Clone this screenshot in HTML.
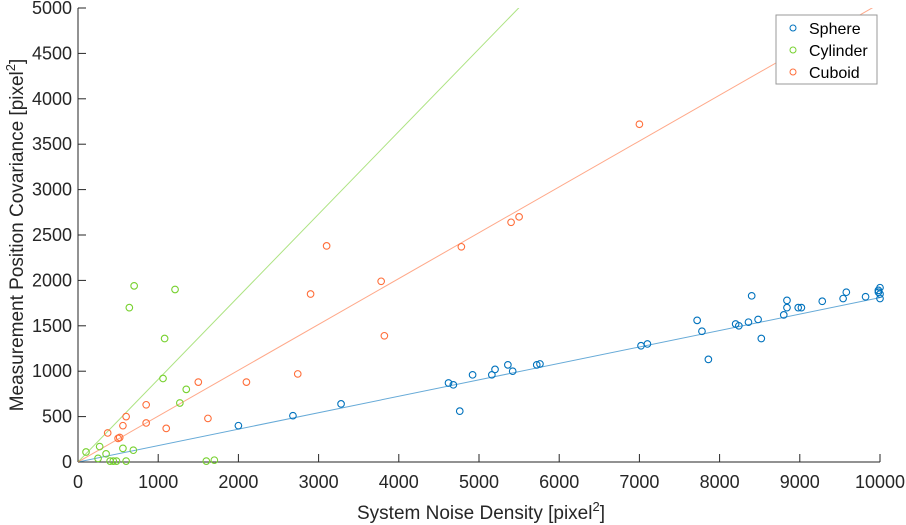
<!DOCTYPE html>
<html><head><meta charset="utf-8"><style>
body{margin:0;background:#fff;}
svg{display:block;font-family:"Liberation Sans",sans-serif;}
</style></head><body>
<svg id="chart" width="906" height="525"></svg>
<script>
const xTicks=[0,1000,2000,3000,4000,5000,6000,7000,8000,9000,10000];
const yTicks=[0,500,1000,1500,2000,2500,3000,3500,4000,4500,5000];
const sphereX=[2000,2680,3280,4620,4680,4760,4920,5160,5200,5360,5420,5720,5760,7020,7100,7720,7780,7860,8200,8240,8360,8400,8480,8520,8800,8840,8840,8980,9020,9280,9540,9580,9820,9980,9980,10000,10000,10000];
const sphereY=[400,510,640,870,850,560,960,960,1020,1070,1000,1070,1080,1280,1300,1560,1440,1130,1520,1500,1540,1830,1570,1360,1620,1700,1780,1700,1700,1770,1800,1870,1820,1870,1890,1920,1800,1850];
const cylX=[100,270,350,250,400,440,480,560,600,690,640,700,1060,1080,1210,1270,1350,1600,1700];
const cylY=[110,170,90,40,10,10,10,150,10,130,1700,1940,920,1360,1900,650,800,10,20];
const cubX=[370,520,560,600,500,850,850,1100,1500,1620,2100,2740,2900,3100,3780,3820,4780,5400,5500,7000];
const cubY=[320,270,400,500,260,630,430,370,880,480,880,970,1850,2380,1990,1390,2370,2640,2700,3720];
const slopes=[0.181,0.91,0.505];
const names=['Sphere','Cylinder','Cuboid'];
const colors=['#0072BD','#77D12F','#FF6E3A'];
const X0=78,X1=880,Y0=462,Y1=8;
const sx=v=>X0+(v/10000)*(X1-X0);
const sy=v=>Y0-(v/5000)*(Y0-Y1);
const svg=document.getElementById('chart');
const NS='http://www.w3.org/2000/svg';
function mk(t,a,p){const e=document.createElementNS(NS,t);for(const k in a)e.setAttribute(k,a[k]);(p||svg).appendChild(e);return e;}
const xa=mk('line',{x1:X0,y1:Y0,x2:X1,y2:Y0,stroke:'#262626','stroke-width':1});


const ya=mk('line',{x1:X0,y1:Y0,x2:X0,y2:Y1,stroke:'#262626','stroke-width':1});


xTicks.forEach(v=>{
 mk('line',{x1:sx(v),y1:Y0,x2:sx(v),y2:Y0-8,stroke:'#262626'});
 const t=mk('text',{x:sx(v),y:Y0+26,'text-anchor':'middle','font-size':18,fill:'#262626'});
 t.textContent=v;
 
 
});
yTicks.forEach(v=>{
 mk('line',{x1:X0,y1:sy(v),x2:X0+8,y2:sy(v),stroke:'#262626'});
 const t=mk('text',{x:X0-6,y:sy(v)+6,'text-anchor':'end','font-size':18,fill:'#262626'});
 t.textContent=v;
 
 
});
const xt=mk('text',{x:481,y:519,'text-anchor':'middle','font-size':19,fill:'#262626'});
xt.innerHTML='System Noise Density [pixel<tspan dy="-8" font-size="13">2</tspan><tspan dy="8">]</tspan>';


const yt=mk('text',{x:0,y:0,'text-anchor':'middle','font-size':19,fill:'#262626',transform:'translate(23,235) rotate(-90)'});
yt.innerHTML='Measurement Position Covariance [pixel<tspan dy="-8" font-size="13">2</tspan><tspan dy="8">]</tspan>';


const clip=mk('clipPath',{id:'c'});mk('rect',{x:X0,y:Y1,width:X1-X0,height:Y0-Y1},clip);
slopes.forEach((s,i)=>{
 const l=mk('line',{x1:sx(0),y1:sy(0),x2:sx(10000),y2:sy(10000*s),stroke:colors[i],'stroke-opacity':0.6,'stroke-width':1,'clip-path':'url(#c)'});
 
 
});
[[sphereX,sphereY],[cylX,cylY],[cubX,cubY]].forEach((d,i)=>{
 d[0].forEach((x,j)=>{
  const c=mk('circle',{cx:sx(x),cy:sy(d[1][j]),r:3.3,fill:'none',stroke:colors[i],'stroke-width':1.1});
  
  
 });
});
const lg=mk('g',{});


mk('rect',{x:776,y:15,width:101,height:69,fill:'#fff',stroke:'#999'},lg);
names.forEach((n,i)=>{
 const y=28+i*22;
 mk('circle',{cx:793,cy:y,r:3,fill:'none',stroke:colors[i]},lg);
 const t=mk('text',{x:809,y:y+6,'font-size':16,fill:'#000'},lg);
 t.textContent=n;
 
 
});
</script>
</body></html>
